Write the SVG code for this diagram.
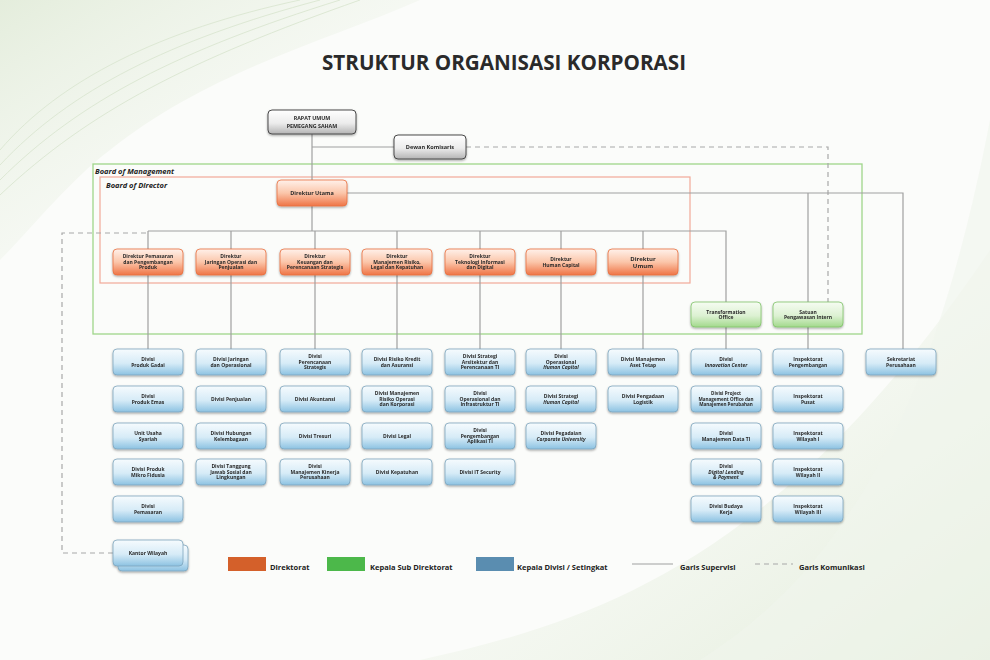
<svg xmlns="http://www.w3.org/2000/svg" width="990" height="660" viewBox="0 0 990 660">
<defs>
<linearGradient id="gBlue" x1="0" y1="0" x2="0" y2="1"><stop offset="0" stop-color="#f6fbfe"/><stop offset="0.55" stop-color="#d6ebf7"/><stop offset="1" stop-color="#8cc2e2"/></linearGradient>
<linearGradient id="gOrange" x1="0" y1="0" x2="0" y2="1"><stop offset="0" stop-color="#fff1ea"/><stop offset="0.5" stop-color="#fbc6aa"/><stop offset="1" stop-color="#ef7446"/></linearGradient>
<linearGradient id="gGreen" x1="0" y1="0" x2="0" y2="1"><stop offset="0" stop-color="#f6fcf2"/><stop offset="0.55" stop-color="#dcf1d2"/><stop offset="1" stop-color="#a2d98c"/></linearGradient>
<linearGradient id="gGrey" x1="0" y1="0" x2="0" y2="1"><stop offset="0" stop-color="#ffffff"/><stop offset="0.55" stop-color="#ececec"/><stop offset="1" stop-color="#b4b4b4"/></linearGradient>
<linearGradient id="bgTL" x1="0" y1="0" x2="1" y2="1"><stop offset="0" stop-color="#e4eddc"/><stop offset="1" stop-color="#fbfcfa" stop-opacity="0"/></linearGradient>
<linearGradient id="bgBR" x1="0" y1="0" x2="1" y2="1"><stop offset="0" stop-color="#fbfcfa" stop-opacity="0"/><stop offset="1" stop-color="#e2ecd9"/></linearGradient>
<filter id="sh" x="-20%" y="-20%" width="140%" height="160%"><feDropShadow dx="0" dy="1.2" stdDeviation="0.8" flood-color="#000" flood-opacity="0.35"/></filter>
<style>
.bb{fill:url(#gBlue);stroke:#7ea4bd;stroke-width:0.8}
.bo{fill:url(#gOrange);stroke:#e8703f;stroke-width:0.8}
.bg{fill:url(#gGreen);stroke:#80c46a;stroke-width:0.8}
.bk{fill:url(#gGrey);stroke:#4a4a4a;stroke-width:1}
.n{filter:url(#sh)}
text{font-family:"Open Sans","Liberation Sans",sans-serif;font-weight:700;fill:#2a2a2a}
.t{font-size:5px;text-anchor:middle}
.i{font-style:italic}
.ln{fill:none;stroke:#a0a0a0;stroke-width:1.2}
.dl{fill:none;stroke:#a8a8a8;stroke-width:1.2;stroke-dasharray:5 4}
.lg{font-size:7.5px;fill:#222}
.bl{font-size:7.5px;font-style:italic;fill:#222}
</style>
</defs>
<rect x="0" y="0" width="990" height="660" fill="#fbfcfa"/>
<path d="M0 0 H420 C330 40 210 70 110 150 C70 180 30 230 0 260 Z" fill="url(#bgTL)"/>
<g fill="none" stroke="#dde8d4" stroke-width="1">
<path d="M0 150 C60 80 160 30 300 0"/>
<path d="M0 165 C70 90 170 40 320 0"/>
<path d="M0 180 C80 100 180 50 340 0"/>
<path d="M0 195 C90 110 190 60 360 0"/>
</g>
<path d="M990 250 V660 H420 C600 620 780 560 990 250 Z" fill="url(#bgBR)"/>
<path d="M990 120 V660 H700 C860 560 940 380 990 120 Z" fill="#f0f5ec" opacity="0.6"/>

<text x="504" y="70" font-size="21" font-weight="800" text-anchor="middle" fill="#0a0a0a" textLength="364" lengthAdjust="spacingAndGlyphs">STRUKTUR ORGANISASI KORPORASI</text>

<g id="boards">
<rect x="93" y="164" width="769" height="170" fill="none" stroke="#9fd68a" stroke-width="1.3"/>
<text class="bl" x="95" y="174">Board of Management</text>
<rect x="100" y="177" width="590" height="106" fill="none" stroke="#f2a898" stroke-width="1.2"/>
<text class="bl" x="106" y="188">Board of Director</text>
</g>

<g id="connectors">
<path class="ln" d="M312 134 V180"/>
<path class="ln" d="M312 147 H394"/>
<path class="dl" d="M466 147 H828 V302"/>
<path class="ln" d="M347 193 H903 V349"/>
<path class="ln" d="M808 193 V302"/>
<path class="ln" d="M312 206 V231"/>
<path class="ln" d="M148 231 H726 V302"/>
<path class="ln" d="M148 231 V249 M231 231 V249 M315 231 V249 M397 231 V249 M480 231 V249 M561 231 V249 M643 231 V249"/>
<path class="ln" d="M148 275 V349 M231 275 V349 M315 275 V349 M397 275 V349 M480 275 V349 M561 275 V349 M643 275 V349"/>
<path class="ln" d="M726 327 V349 M808 327 V349"/>
<path class="dl" d="M113 553 H62 V233 H148"/>
</g>

<g id="rups" class="n"><rect class="bk" x="268" y="110" width="88" height="24" rx="4"/><text class="t" style="font-size:5.3px" x="312" y="120">RAPAT UMUM</text><text class="t" style="font-size:5.3px" x="312" y="127.8">PEMEGANG SAHAM</text></g>
<g id="dewan-komisaris" class="n"><rect class="bk" x="394" y="135" width="72" height="24" rx="4"/><text class="t" style="font-size:5.6px" x="430" y="149">Dewan Komisaris</text></g>
<g id="direktur-utama" class="n"><rect class="bo" x="277" y="180" width="70" height="26" rx="4"/><text class="t" style="font-size:5.5px" x="312" y="195">Direktur Utama</text></g>

<g id="dir-pemasaran" class="n"><rect class="bo" x="113" y="249" width="70" height="26" rx="4"/><text class="t" x="148" y="258.2">Direktur Pemasaran</text><text class="t" x="148" y="263.8">dan Pengembangan</text><text class="t" x="148" y="269.4">Produk</text></g>
<g id="dir-jaringan" class="n"><rect class="bo" x="196" y="249" width="70" height="26" rx="4"/><text class="t" x="231" y="258.2">Direktur</text><text class="t" x="231" y="263.8">Jaringan Operasi dan</text><text class="t" x="231" y="269.4">Penjualan</text></g>
<g id="dir-keuangan" class="n"><rect class="bo" x="280" y="249" width="70" height="26" rx="4"/><text class="t" x="315" y="258.2">Direktur</text><text class="t" x="315" y="263.8">Keuangan dan</text><text class="t" x="315" y="269.4">Perencanaan Strategis</text></g>
<g id="dir-risiko" class="n"><rect class="bo" x="362" y="249" width="70" height="26" rx="4"/><text class="t" x="397" y="258.2">Direktur</text><text class="t" x="397" y="263.8">Manajemen Risiko,</text><text class="t" x="397" y="269.4">Legal dan Kepatuhan</text></g>
<g id="dir-ti" class="n"><rect class="bo" x="445" y="249" width="70" height="26" rx="4"/><text class="t" x="480" y="258.2">Direktur</text><text class="t" x="480" y="263.8">Teknologi Informasi</text><text class="t" x="480" y="269.4">dan Digital</text></g>
<g id="dir-hc" class="n"><rect class="bo" x="526" y="249" width="70" height="26" rx="4"/><text class="t" x="561" y="261">Direktur</text><text class="t" x="561" y="266.6">Human Capital</text></g>
<g id="dir-umum" class="n"><rect class="bo" x="608" y="249" width="70" height="26" rx="4"/><text class="t" style="font-size:6px" x="643" y="260.7">Direktur</text><text class="t" style="font-size:6px" x="643" y="267.5">Umum</text></g>

<g id="transformation-office" class="n"><rect class="bg" x="691" y="302" width="70" height="25" rx="4"/><text class="t" x="726" y="313.5">Transformation</text><text class="t" x="726" y="319.1">Office</text></g>
<g id="spi" class="n"><rect class="bg" x="773" y="302" width="70" height="25" rx="4"/><text class="t" x="808" y="313.5">Satuan</text><text class="t" x="808" y="319.1">Pengawasan Intern</text></g>

<!-- Column 1 -->
<g id="div-gadai" class="n"><rect class="bb" x="113" y="349" width="70" height="26" rx="4"/><text class="t" x="148" y="361">Divisi</text><text class="t" x="148" y="366.6">Produk Gadai</text></g>
<g id="div-emas" class="n"><rect class="bb" x="113" y="386" width="70" height="26" rx="4"/><text class="t" x="148" y="398">Divisi</text><text class="t" x="148" y="403.6">Produk Emas</text></g>
<g id="uus" class="n"><rect class="bb" x="113" y="423" width="70" height="26" rx="4"/><text class="t" x="148" y="435">Unit Usaha</text><text class="t" x="148" y="440.6">Syariah</text></g>
<g id="div-mikro" class="n"><rect class="bb" x="113" y="459" width="70" height="26" rx="4"/><text class="t" x="148" y="471">Divisi Produk</text><text class="t" x="148" y="476.6">Mikro Fidusia</text></g>
<g id="div-pemasaran" class="n"><rect class="bb" x="113" y="496" width="70" height="26" rx="4"/><text class="t" x="148" y="508">Divisi</text><text class="t" x="148" y="513.6">Pemasaran</text></g>
<g id="kantor-wilayah" class="n"><rect class="bb" x="118" y="545" width="70" height="26" rx="4"/><rect class="bb" x="113" y="540" width="70" height="26" rx="4"/><text class="t" x="148" y="554.8">Kantor Wilayah</text></g>

<!-- Column 2 -->
<g id="div-jaringan" class="n"><rect class="bb" x="196" y="349" width="70" height="26" rx="4"/><text class="t" x="231" y="361">Divisi Jaringan</text><text class="t" x="231" y="366.6">dan Operasional</text></g>
<g id="div-penjualan" class="n"><rect class="bb" x="196" y="386" width="70" height="26" rx="4"/><text class="t" x="231" y="400.8">Divisi Penjualan</text></g>
<g id="div-hubungan" class="n"><rect class="bb" x="196" y="423" width="70" height="26" rx="4"/><text class="t" x="231" y="435">Divisi Hubungan</text><text class="t" x="231" y="440.6">Kelembagaan</text></g>
<g id="div-tjsl" class="n"><rect class="bb" x="196" y="459" width="70" height="26" rx="4"/><text class="t" x="231" y="468.2">Divisi Tanggung</text><text class="t" x="231" y="473.8">Jawab Sosial dan</text><text class="t" x="231" y="479.4">Lingkungan</text></g>

<!-- Column 3 -->
<g id="div-perencanaan" class="n"><rect class="bb" x="280" y="349" width="70" height="26" rx="4"/><text class="t" x="315" y="358.2">Divisi</text><text class="t" x="315" y="363.8">Perencanaan</text><text class="t" x="315" y="369.4">Strategis</text></g>
<g id="div-akuntansi" class="n"><rect class="bb" x="280" y="386" width="70" height="26" rx="4"/><text class="t" x="315" y="400.8">Divisi Akuntansi</text></g>
<g id="div-tresuri" class="n"><rect class="bb" x="280" y="423" width="70" height="26" rx="4"/><text class="t" x="315" y="437.8">Divisi Tresuri</text></g>
<g id="div-kinerja" class="n"><rect class="bb" x="280" y="459" width="70" height="26" rx="4"/><text class="t" x="315" y="468.2">Divisi</text><text class="t" x="315" y="473.8">Manajemen Kinerja</text><text class="t" x="315" y="479.4">Perusahaan</text></g>

<!-- Column 4 -->
<g id="div-risiko-kredit" class="n"><rect class="bb" x="362" y="349" width="70" height="26" rx="4"/><text class="t" x="397" y="361">Divisi Risiko Kredit</text><text class="t" x="397" y="366.6">dan Asuransi</text></g>
<g id="div-risiko-operasi" class="n"><rect class="bb" x="362" y="386" width="70" height="26" rx="4"/><text class="t" x="397" y="395.2">Divisi Manajemen</text><text class="t" x="397" y="400.8">Risiko Operasi</text><text class="t" x="397" y="406.4">dan Korporasi</text></g>
<g id="div-legal" class="n"><rect class="bb" x="362" y="423" width="70" height="26" rx="4"/><text class="t" x="397" y="437.8">Divisi Legal</text></g>
<g id="div-kepatuhan" class="n"><rect class="bb" x="362" y="459" width="70" height="26" rx="4"/><text class="t" x="397" y="473.8">Divisi Kepatuhan</text></g>

<!-- Column 5 -->
<g id="div-strategi-ti" class="n"><rect class="bb" x="445" y="349" width="70" height="26" rx="4"/><text class="t" x="480" y="358.2">Divisi Strategi</text><text class="t" x="480" y="363.8">Arsitektur dan</text><text class="t" x="480" y="369.4">Perencanaan TI</text></g>
<g id="div-infra-ti" class="n"><rect class="bb" x="445" y="386" width="70" height="26" rx="4"/><text class="t" x="480" y="395.2">Divisi</text><text class="t" x="480" y="400.8">Operasional dan</text><text class="t" x="480" y="406.4">Infrastruktur TI</text></g>
<g id="div-aplikasi-ti" class="n"><rect class="bb" x="445" y="423" width="70" height="26" rx="4"/><text class="t" x="480" y="432.2">Divisi</text><text class="t" x="480" y="437.8">Pengembangan</text><text class="t" x="480" y="443.4">Aplikasi TI</text></g>
<g id="div-it-security" class="n"><rect class="bb" x="445" y="459" width="70" height="26" rx="4"/><text class="t" x="480" y="473.8">Divisi IT Security</text></g>

<!-- Column 6 -->
<g id="div-ops-hc" class="n"><rect class="bb" x="526" y="349" width="70" height="26" rx="4"/><text class="t" x="561" y="358.2">Divisi</text><text class="t" x="561" y="363.8">Operasional</text><text class="t i" x="561" y="369.4">Human Capital</text></g>
<g id="div-strategi-hc" class="n"><rect class="bb" x="526" y="386" width="70" height="26" rx="4"/><text class="t" x="561" y="398">Divisi Strategi</text><text class="t i" x="561" y="403.6">Human Capital</text></g>
<g id="div-corpu" class="n"><rect class="bb" x="526" y="423" width="70" height="26" rx="4"/><text class="t" x="561" y="435">Divisi Pegadaian</text><text class="t i" x="561" y="440.6">Corporate University</text></g>

<!-- Column 7 -->
<g id="div-aset" class="n"><rect class="bb" x="608" y="349" width="70" height="26" rx="4"/><text class="t" x="643" y="361">Divisi Manajemen</text><text class="t" x="643" y="366.6">Aset Tetap</text></g>
<g id="div-pengadaan" class="n"><rect class="bb" x="608" y="386" width="70" height="26" rx="4"/><text class="t" x="643" y="398">Divisi Pengadaan</text><text class="t" x="643" y="403.6">Logistik</text></g>

<!-- Column 8 -->
<g id="div-innovation" class="n"><rect class="bb" x="691" y="349" width="70" height="26" rx="4"/><text class="t" x="726" y="361">Divisi</text><text class="t i" x="726" y="366.6">Innovation Center</text></g>
<g id="div-pmo" class="n"><rect class="bb" x="691" y="386" width="70" height="26" rx="4"/><text class="t" style="font-size:4.6px" x="726" y="395.2">Divisi Project</text><text class="t" style="font-size:4.6px" x="726" y="400.8">Management Office dan</text><text class="t" style="font-size:4.6px" x="726" y="406.4">Manajemen Perubahan</text></g>
<g id="div-data-ti" class="n"><rect class="bb" x="691" y="423" width="70" height="26" rx="4"/><text class="t" x="726" y="435">Divisi</text><text class="t" x="726" y="440.6">Manajemen Data TI</text></g>
<g id="div-digital-lending" class="n"><rect class="bb" x="691" y="459" width="70" height="26" rx="4"/><text class="t" x="726" y="468.2">Divisi</text><text class="t i" x="726" y="473.8">Digital Lending</text><text class="t i" x="726" y="479.4">&amp; Payment</text></g>
<g id="div-budaya" class="n"><rect class="bb" x="691" y="496" width="70" height="26" rx="4"/><text class="t" x="726" y="508">Divisi Budaya</text><text class="t" x="726" y="513.6">Kerja</text></g>

<!-- Column 9 -->
<g id="insp-pengembangan" class="n"><rect class="bb" x="773" y="349" width="70" height="26" rx="4"/><text class="t" x="808" y="361">Inspektorat</text><text class="t" x="808" y="366.6">Pengembangan</text></g>
<g id="insp-pusat" class="n"><rect class="bb" x="773" y="386" width="70" height="26" rx="4"/><text class="t" x="808" y="398">Inspektorat</text><text class="t" x="808" y="403.6">Pusat</text></g>
<g id="insp-wil1" class="n"><rect class="bb" x="773" y="423" width="70" height="26" rx="4"/><text class="t" x="808" y="435">Inspektorat</text><text class="t" x="808" y="440.6">Wilayah I</text></g>
<g id="insp-wil2" class="n"><rect class="bb" x="773" y="459" width="70" height="26" rx="4"/><text class="t" x="808" y="471">Inspektorat</text><text class="t" x="808" y="476.6">Wilayah II</text></g>
<g id="insp-wil3" class="n"><rect class="bb" x="773" y="496" width="70" height="26" rx="4"/><text class="t" x="808" y="508">Inspektorat</text><text class="t" x="808" y="513.6">Wilayah III</text></g>

<!-- Column 10 -->
<g id="sekretariat" class="n"><rect class="bb" x="866" y="349" width="70" height="26" rx="4"/><text class="t" x="901" y="361">Sekretariat</text><text class="t" x="901" y="366.6">Perusahaan</text></g>

<g id="legend">
<rect x="228" y="557" width="38" height="14" fill="#d4602a"/><text class="lg" x="270" y="570">Direktorat</text>
<rect x="327" y="557" width="38" height="14" fill="#4cb84a"/><text class="lg" x="370" y="570">Kepala Sub Direktorat</text>
<rect x="476" y="557" width="38" height="14" fill="#5a8db0"/><text class="lg" x="517" y="570">Kepala Divisi / Setingkat</text>
<path class="ln" d="M632 564 H673"/><text class="lg" x="680" y="570">Garis Supervisi</text>
<path class="dl" d="M755 564 H793"/><text class="lg" x="799" y="570">Garis Komunikasi</text>
</g>
</svg>
